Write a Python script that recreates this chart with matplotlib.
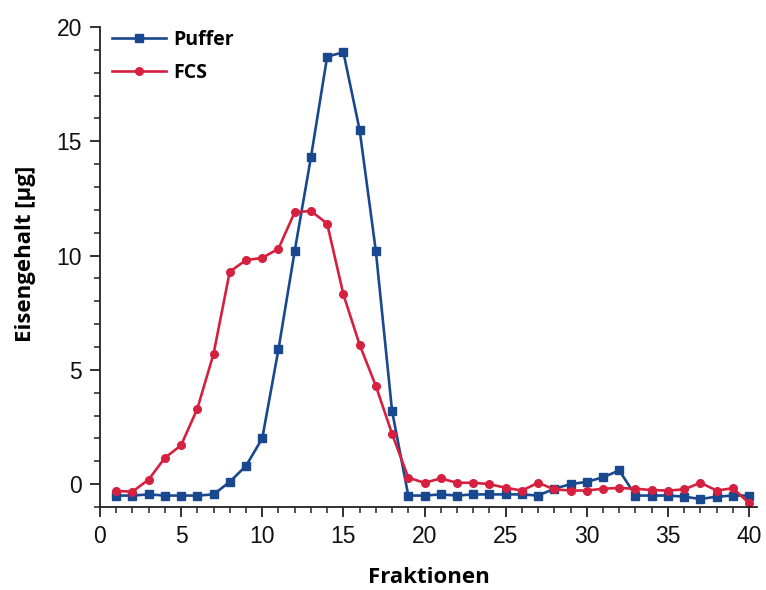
import numpy as np
import matplotlib.pyplot as plt
from matplotlib.ticker import MultipleLocator

# Fraction numbers and iron content per fraction
fractions = list(range(1, 41))

puffer = [-0.5, -0.5, -0.45, -0.5, -0.5, -0.5, -0.45, 0.1, 0.8, 2.0,
          5.9, 10.2, 14.3, 18.7, 18.9, 15.5, 10.2, 3.2, -0.5, -0.5,
          -0.45, -0.5, -0.45, -0.45, -0.45, -0.45, -0.5, -0.2, 0.0, 0.1,
          0.3, 0.6, -0.5, -0.5, -0.5, -0.55, -0.65, -0.55, -0.5, -0.5]

fcs = [-0.3, -0.33, 0.2, 1.15, 1.7, 3.3, 5.7, 9.3, 9.8, 9.9,
       10.3, 11.9, 11.95, 11.4, 8.3, 6.1, 4.3, 2.2, 0.28, 0.06,
       0.25, 0.06, 0.06, 0.0, -0.16, -0.28, 0.06, -0.23, -0.28, -0.28,
       -0.2, -0.17, -0.2, -0.26, -0.28, -0.23, 0.06, -0.28, -0.18, -0.83]

BLUE = '#19488f'
RED = '#d6203f'

tick_font = ['Liberation Sans', 'DejaVu Sans']
label_font = ['Open Sans', 'DejaVu Sans']

fig = plt.figure(figsize=(7.66, 5.90), dpi=100)
ax = fig.add_axes([0.1305, 0.1407, 0.858, 0.8135])

ax.plot(fractions, puffer, color=BLUE, lw=1.9, marker='s', ms=5.5, label='Puffer')
ax.plot(fractions, fcs, color=RED, lw=1.9, marker='o', ms=5.5, label='FCS')

ax.set_xlim(0, 40.5)
ax.set_ylim(-1, 20)

ax.spines['top'].set_visible(False)
ax.spines['right'].set_visible(False)
for s in ('left', 'bottom'):
    ax.spines[s].set_linewidth(1.3)
    ax.spines[s].set_color('#222222')

ax.xaxis.set_major_locator(MultipleLocator(5))
ax.xaxis.set_minor_locator(MultipleLocator(1))
ax.yaxis.set_major_locator(MultipleLocator(5))
ax.yaxis.set_minor_locator(MultipleLocator(1))
ax.tick_params(which='major', direction='out', length=7, width=1.3, color='#222222', pad=6)
ax.tick_params(which='minor', direction='out', length=4, width=1.1, color='#222222')

for lbl in ax.get_xticklabels() + ax.get_yticklabels():
    lbl.set_family(tick_font)
    lbl.set_fontsize(16.5)
    lbl.set_color('#111111')

ax.set_xlabel('Fraktionen', family=label_font, fontweight='bold', fontsize=16, labelpad=14)
ax.set_ylabel('Eisengehalt [µg]', family=label_font, fontweight='bold', fontsize=16)
ax.yaxis.set_label_coords(-0.098, 0.527)

leg = ax.legend(loc='upper left', bbox_to_anchor=(-0.009, 1.03), frameon=False,
                prop={'family': label_font, 'weight': 'bold', 'size': 14},
                handlelength=2.8, handletextpad=0.35, labelspacing=0.65)

fig.savefig('out.png', dpi=100)
